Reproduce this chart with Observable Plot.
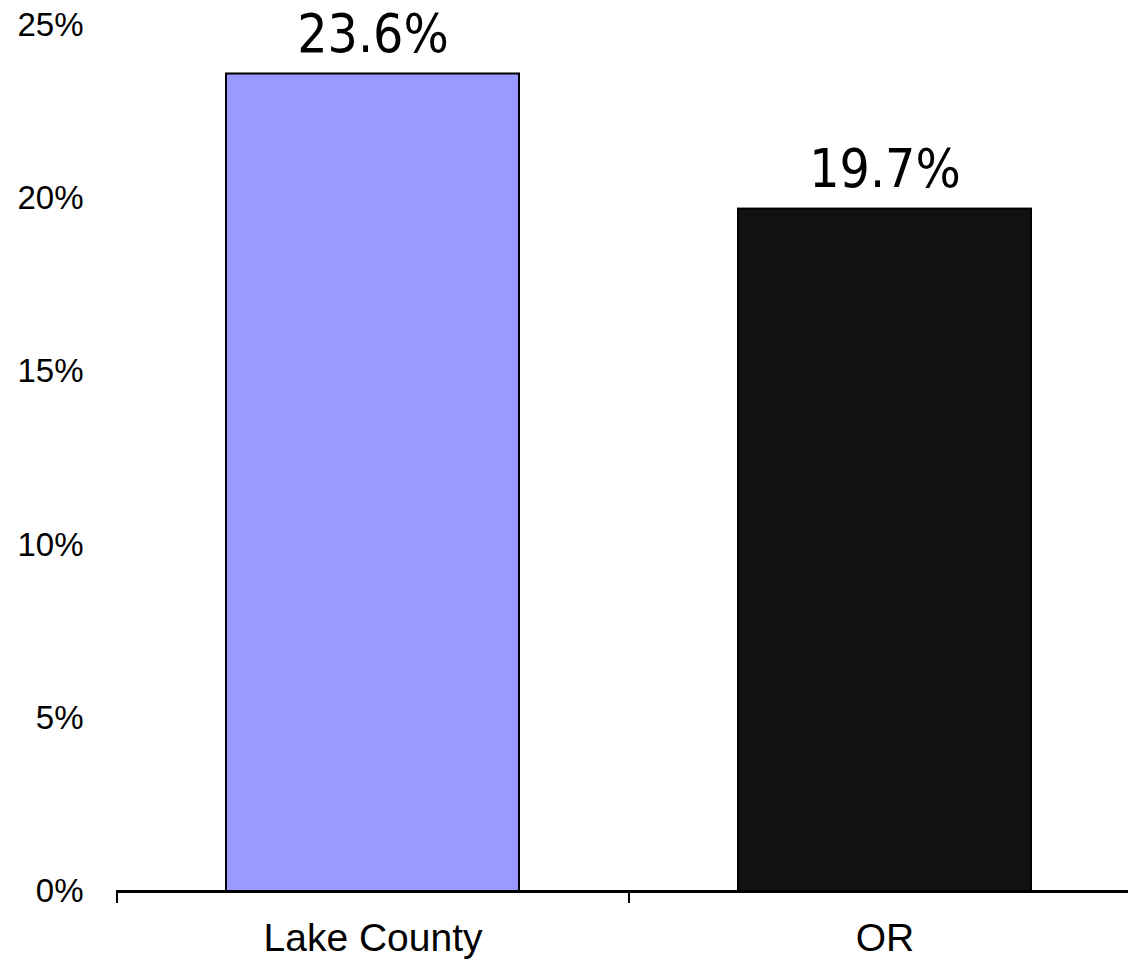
<!DOCTYPE html>
<html>
<head>
<meta charset="utf-8">
<script src="https://cdn.jsdelivr.net/npm/d3@7"></script>
<script src="https://cdn.jsdelivr.net/npm/@observablehq/plot@0.6"></script>
<style>
  html, body { margin: 0; padding: 0; background: #fff; overflow: hidden; }
  #chart svg { display: block; max-width: none !important; }
</style>
</head>
<body>
<div id="chart"></div>
<script>
const categories = ["Lake County", "OR"];
const values = [23.6, 19.7];
const colors = ["#9999FF", "#111111"];
const yTicks = [0, 5, 10, 15, 20, 25];

const data = categories.map((name, i) => ({name, value: values[i]}));

const width = 1140, height = 960;
const marginLeft = 116, marginRight = 0, marginTop = 25, marginBottom = 69;
const step = (width - marginLeft - marginRight) / categories.length;

const chart = Plot.plot({
  width, height, marginLeft, marginRight, marginTop, marginBottom,
  style: {fontFamily: "'Liberation Sans', Arial, sans-serif", background: "#fff", color: "#000"},
  x: {domain: categories, paddingInner: 0.428, paddingOuter: 0.214, axis: null, label: null},
  y: {domain: [0, 25], axis: null, label: null},
  color: {domain: categories, range: colors},
  marks: [
    Plot.barY(data, {x: "name", y: "value", fill: "name", stroke: "#000", strokeWidth: 2}),
    Plot.ruleY([0], {stroke: "#000", strokeWidth: 3}),
    Plot.axisY({ticks: yTicks, tickSize: 0, tickPadding: 33, tickFormat: d => d + "%", fontSize: 33, label: null}),
    Plot.axisX({tickSize: 12, tickFormat: () => "", dx: -step / 2, strokeWidth: 2, label: null}),
    Plot.axisX({tickSize: 0, tickPadding: 32, fontSize: 39, label: null}),
    Plot.text(data, {x: "name", y: "value", text: d => d.value.toFixed(1) + "%", dy: -22, lineAnchor: "bottom",
      fontSize: 53, fontFamily: "'DejaVu Sans Condensed', 'DejaVu Sans', sans-serif", fill: "#000"})
  ]
});
document.getElementById("chart").appendChild(chart);
</script>
</body>
</html>
